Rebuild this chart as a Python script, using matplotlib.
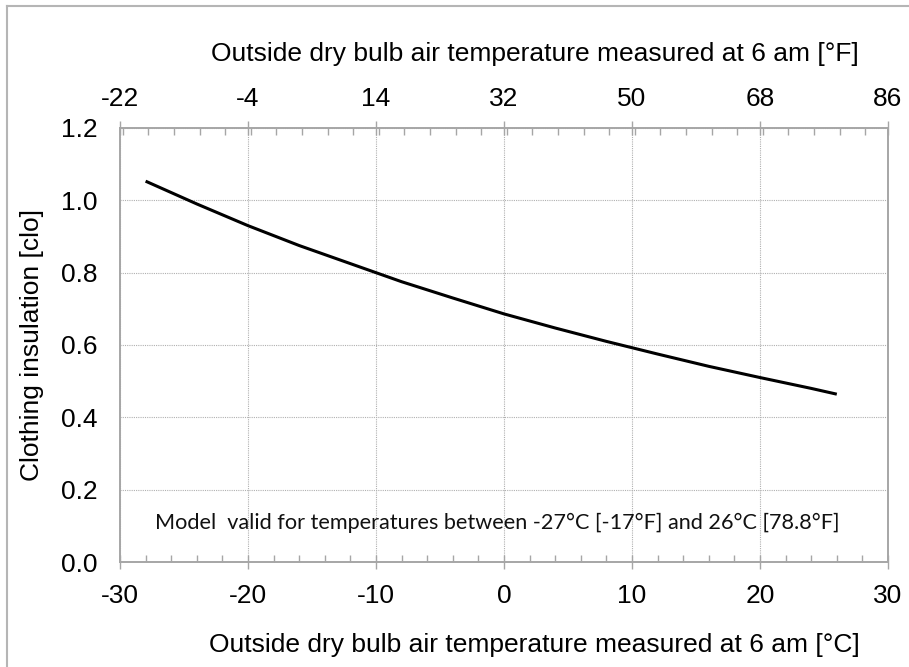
import matplotlib
matplotlib.use("Agg")
import matplotlib.pyplot as plt
from matplotlib.lines import Line2D
from matplotlib.ticker import MultipleLocator

# curve: outside temperature [degC] -> clothing insulation [clo]
temp_c = [-28, -24, -20, -16, -12, -8, -4, 0, 4, 8, 12, 16, 20, 24, 26]
clo = [1.053, 0.99, 0.93, 0.875, 0.825, 0.775, 0.73, 0.686, 0.647, 0.61, 0.575, 0.541, 0.51, 0.48, 0.464]

c_ticks = [-30, -20, -10, 0, 10, 20, 30]
f_ticks = [-22, -4, 14, 32, 50, 68, 86]
y_ticks = [0.0, 0.2, 0.4, 0.6, 0.8, 1.0, 1.2]

note = "Model  valid for temperatures between -27\u00b0C [-17\u00b0F] and 26\u00b0C [78.8\u00b0F]"
xlabel_c = "Outside dry bulb air temperature measured at 6 am [\u00b0C]"
xlabel_f = "Outside dry bulb air temperature measured at 6 am [\u00b0F]"
ylabel = "Clothing insulation [clo]"

plt.rcParams['font.family'] = ['Liberation Sans', 'DejaVu Sans']
gray = "#a6a6a6"
fs = 19

fig = plt.figure(figsize=(9.09, 6.67), dpi=100)
ax = fig.add_axes([120 / 909, 105 / 667, 768 / 909, 434 / 667])

# the curve
ax.plot(temp_c, clo, color="black", lw=2.2, solid_capstyle="butt")

ax.set_xlim(-30, 30)
ax.set_ylim(0, 1.2)
ax.set_xticks(c_ticks)
ax.set_xticklabels([str(t) for t in c_ticks])
ax.xaxis.set_minor_locator(MultipleLocator(2))
ax.set_yticks(y_ticks)
ax.set_yticklabels(["%.1f" % v for v in y_ticks])

ax.grid(True, which="major", color="#b0b0b0", ls=(0, (1, 1)), lw=0.8)
for s in ax.spines.values():
    s.set_color(gray)
    s.set_linewidth(1.2)

ax.tick_params(axis="x", which="major", direction="inout", length=10, width=1, color=gray,
               labelsize=fs, pad=10.5)
ax.tick_params(axis="x", which="minor", direction="in", length=5, width=1, color=gray)
ax.tick_params(axis="y", which="both", length=0, labelsize=fs, pad=16)

# axis titles sit a bit right of the plot centre in the original
ax.set_xlabel(xlabel_c, fontsize=fs, labelpad=18, x=0.54)
ax.set_ylabel(ylabel, fontsize=fs, labelpad=12)

# top axis in degF
ax2 = ax.twiny()
ax2.set_xlim(-22, 86)
ax2.set_xticks(f_ticks)
ax2.set_xticklabels([str(t) for t in f_ticks])
ax2.xaxis.set_minor_locator(MultipleLocator(3.6))
ax2.tick_params(axis="x", which="major", direction="inout", length=10, width=1, color=gray,
                labelsize=fs, pad=7)
ax2.tick_params(axis="x", which="minor", direction="in", length=5, width=1, color=gray)
for s in ax2.spines.values():
    s.set_color(gray)
    s.set_linewidth(1.2)
ax2.set_xlabel(xlabel_f, fontsize=fs, labelpad=19, x=0.54)

ax.text(-27.3, 0.108, note, fontsize=15.6, family=['Lato', 'DejaVu Sans'],
        va="center", ha="left", color="#111111")

# outer frame (left and top edges visible)
fig.add_artist(Line2D([7 / 909, 7 / 909], [0, 1 - 6 / 667], color="#b5b5b5", lw=1.5))
fig.add_artist(Line2D([7 / 909, 1], [1 - 6 / 667, 1 - 6 / 667], color="#b5b5b5", lw=1.5))

fig.savefig("out.png", dpi=100)
